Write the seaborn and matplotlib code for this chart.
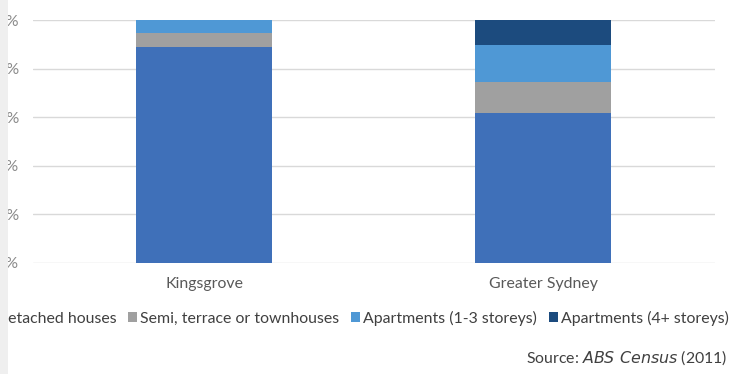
import matplotlib
matplotlib.use("Agg")
import matplotlib.pyplot as plt
import matplotlib.patches as mpatches
import numpy as np
import pandas as pd
import seaborn as sns

# ---- data (percent of dwellings) ----
areas = ["Kingsgrove", "Greater Sydney"]
types = ["Detached houses", "Semi, terrace or townhouses",
         "Apartments (1-3 storeys)", "Apartments (4+ storeys)"]
detached = [88.9, 61.7]
semi = [5.8, 12.8]
apt_low = [5.3, 15.2]
apt_high = [0.0, 10.3]
yticks = [0, 20, 40, 60, 80, 100]
ytick_labels = ["0%", "20%", "40%", "60%", "80%", "100%"]

colors = ["#3f70b9", "#a0a0a0", "#4f98d5", "#1c4b7e"]

sns.set_theme(style="white")
plt.rcParams["font.family"] = ["Lato", "DejaVu Sans"]

FS = 11.4

fig = plt.figure(figsize=(7.29, 3.74), dpi=100)
fig.patch.set_facecolor("white")
# page-margin strip at the left edge, lying over the content as in the reference
fig.patches.append(mpatches.Rectangle((0, 0), 8 / 729, 1, transform=fig.transFigure,
                                      facecolor="#efefef", edgecolor="none", zorder=20))

ax = fig.add_axes([33 / 729, 1 - 263 / 374, 682 / 729, 243 / 374])

series = [detached, semi, apt_low, apt_high]
cum = np.cumsum(np.array(series), axis=0)
# draw from the top layer down so each lower segment covers the one above
for i in range(len(types) - 1, -1, -1):
    df = pd.DataFrame({"area": areas, "value": cum[i]})
    sns.barplot(data=df, x="area", y="value", color=colors[i], width=0.40,
                saturation=1, ax=ax, zorder=3, edgecolor="none")

ax.set_xlim(-0.505, 1.507)
ax.set_ylim(0, 100)
ax.set_yticks(yticks)
ax.set_yticklabels(ytick_labels)
ax.set_xlabel("")
ax.set_ylabel("")
ax.grid(axis="y", color="#d9d9d9", linewidth=1, zorder=0)
for s in ax.spines.values():
    s.set_visible(False)
ax.tick_params(axis="y", length=0, pad=10, labelsize=FS, labelcolor="#8a8a8a")
ax.tick_params(axis="x", length=0, pad=10, labelsize=FS, labelcolor="#595959")

handles = [mpatches.Patch(facecolor=c, edgecolor="none") for c in colors]
leg = fig.legend(handles, types, ncol=4, loc="center right",
                 bbox_to_anchor=(728.5 / 729, 1 - 318 / 374), frameon=False,
                 fontsize=FS, handlelength=0.57, handleheight=0.57,
                 handletextpad=0.18, columnspacing=0.75, borderaxespad=0,
                 borderpad=0)
for t in leg.get_texts():
    t.set_color("#404040")

fig.text(727 / 729, 1 - 358 / 374,
         r"Source: $\it{ABS\ Census}$ (2011)", ha="right", va="center",
         fontsize=FS, color="#404040")

fig.savefig("out.png", dpi=100)
